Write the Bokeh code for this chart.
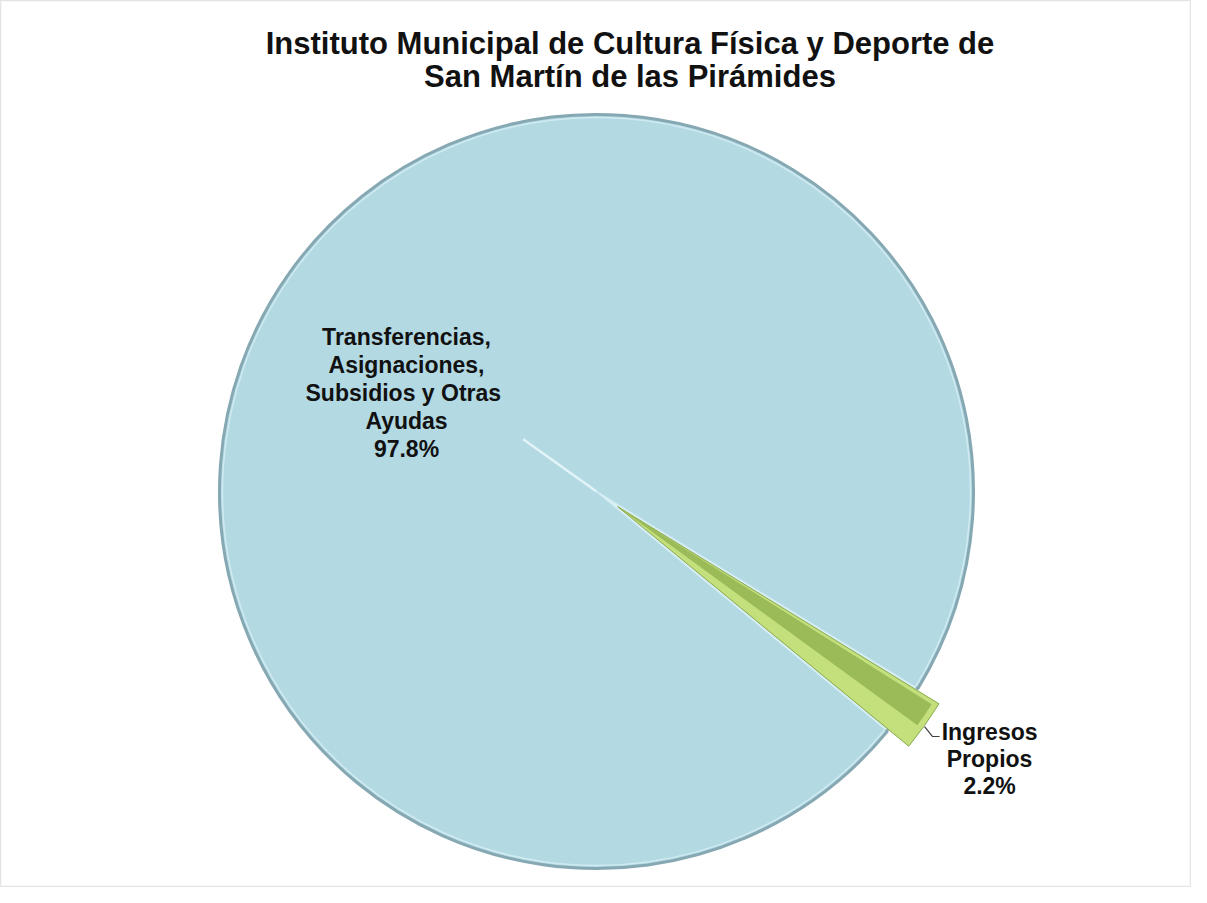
import math
from bokeh.plotting import figure
from bokeh.models import ColumnDataSource, Range1d, Label
from bokeh.core.properties import value
from bokeh.embed import file_html
from bokeh.resources import INLINE

# ---- data ----
title_lines = ["Instituto Municipal de Cultura Física y Deporte de",
               "San Martín de las Pirámides"]
categories = ["Ingresos Propios",
              "Transferencias, Asignaciones, Subsidios y Otras Ayudas"]
label_lines = [["Ingresos", "Propios"],
               ["Transferencias,", "Asignaciones,", "Subsidios  y Otras", "Ayudas"]]
shares = [2.2, 97.8]
pct_labels = ["2.2%", "97.8%"]

# ---- layout / style ----
W, H = 1191, 887
CX, CY = 596, 396
R = 377
ROT = math.radians(-39.46)
EXPLODE = 26
BLUE = "#b3d9e3"
BLUE_EDGE = "#86a8b3"
GAP = "#d8eff5"
GREEN = "#9bbb59"
GREEN_LIGHT = "#c3e07c"

p = figure(width=W, height=H, x_range=Range1d(0, W), y_range=Range1d(0, H),
           output_backend="svg", toolbar_location=None, min_border=0)
p.axis.visible = False
p.grid.visible = False
p.outline_line_color = "#e4e4e4"
p.outline_line_width = 1.5
p.background_fill_color = "white"
p.border_fill_color = "white"

total = sum(shares)
starts, ends = [], []
acc = ROT
for v in shares:
    starts.append(acc)
    acc += 2 * math.pi * v / total
    ends.append(acc)
mids = [(s + e) / 2 for s, e in zip(starts, ends)]

# big slice (Transferencias)
src_big = ColumnDataSource(dict(x=[CX], y=[CY], s=[starts[1]], e=[ends[1]], name=[categories[1]]))
p.wedge(x="x", y="y", radius=R, start_angle="s", end_angle="e", source=src_big,
        fill_color=BLUE, line_color=BLUE_EDGE, line_width=3)
p.wedge(x="x", y="y", radius=R - 3, start_angle="s", end_angle="e", source=src_big,
        fill_color=BLUE, line_color="#cfeaf1", line_width=1.5)
# light bevel where the small slice was
p.wedge(x=CX, y=CY, radius=R - 2, start_angle=starts[0], end_angle=ends[0],
        fill_color=GAP, line_color=None)
# thin highlight running back from the centre
back = 90
p.segment(x0=CX - back * math.cos(mids[0]), y0=CY - back * math.sin(mids[0]),
          x1=CX, y1=CY, line_color="#e2f4f8", line_width=2.5)

# exploded small slice (Ingresos Propios)
ex = CX + EXPLODE * math.cos(mids[0])
ey = CY + EXPLODE * math.sin(mids[0])
src_small = ColumnDataSource(dict(x=[ex], y=[ey], s=[starts[0]], e=[ends[0]], name=[categories[0]]))
p.wedge(x="x", y="y", radius=R, start_angle="s", end_angle="e", source=src_small,
        fill_color=GREEN_LIGHT, line_color="#8aa84c", line_width=1)
span = ends[0] - starts[0]
p.wedge(x=ex, y=ey, radius=R - 6, start_angle=starts[0] + span * 0.42, end_angle=ends[0] - span * 0.08,
        fill_color=GREEN, line_color=None)

# leader line for small slice
rim_x = ex + R * math.cos(mids[0])
rim_y = ey + R * math.sin(mids[0])
p.line(x=[rim_x, rim_x + 8, rim_x + 15], y=[rim_y - 1, rim_y - 11, rim_y - 11],
       line_color="#404040", line_width=1.2)

# labels
def add_label(lines, x, y, size, step):
    for i, t in enumerate(lines):
        p.add_layout(Label(x=x, y=y - i * step, text=t, text_align="center",
                           text_baseline="middle", text_font="Liberation Sans",
                           text_font_style="bold", text_font_size=f"{size}px",
                           text_color="#111111"))

add_label(label_lines[1] + [pct_labels[1]], CX - 190, CY + 155, 23, 28)
add_label(label_lines[0] + [pct_labels[0]], rim_x + 65, rim_y - 6, 23, 27)

# title
for i, t in enumerate(title_lines):
    p.add_layout(Label(x=W / 2 + 34, y=H - 43 - i * 33, text=t, text_align="center",
                       text_baseline="middle", text_font="Liberation Sans",
                       text_font_style="bold", text_font_size="31px", text_color="#111111"))

open("out.html", "w").write(file_html(p, INLINE))
